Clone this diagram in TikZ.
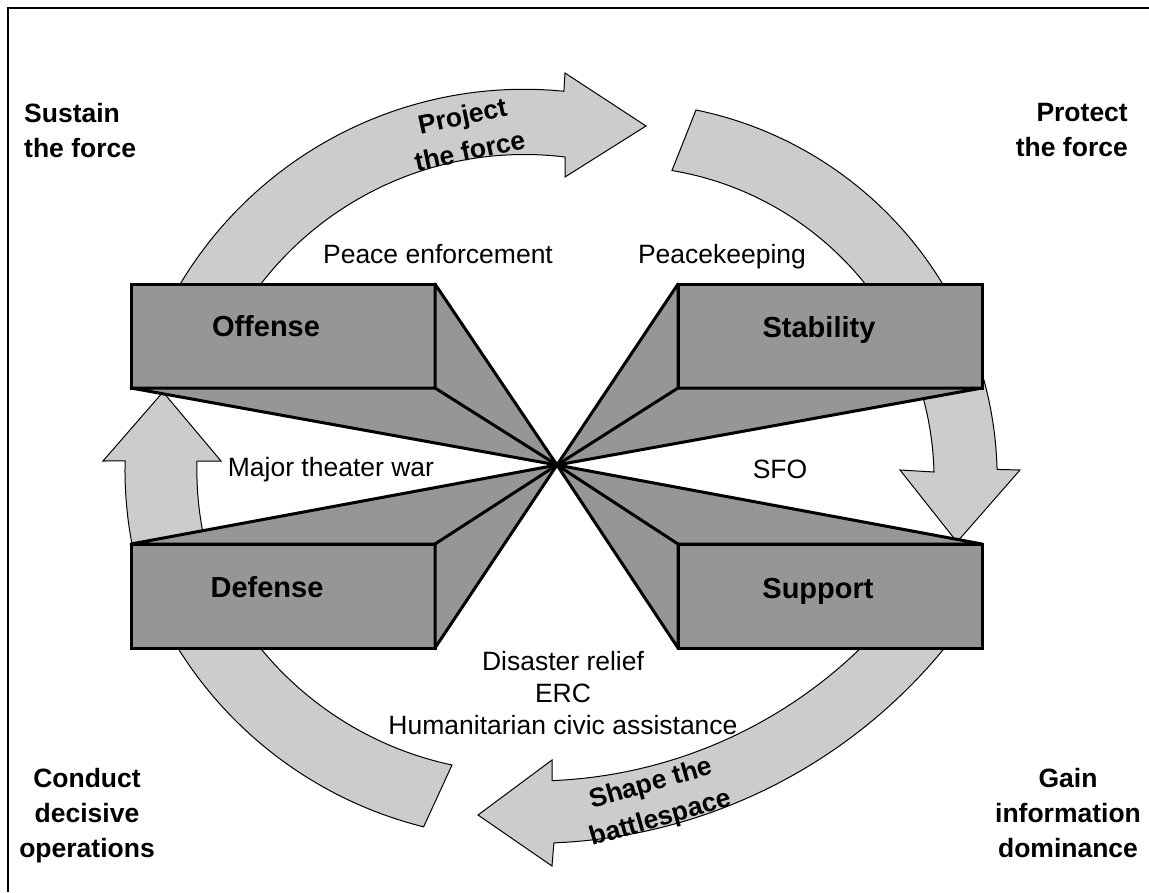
\documentclass[tikz,border=0pt]{standalone}
\usepackage{fontspec}
\setmainfont{Liberation Sans}
\definecolor{boxgray}{RGB}{150,150,150}
\definecolor{bandgray}{RGB}{204,204,204}

\begin{document}
\begin{tikzpicture}[x=1pt,y=1pt,yscale=-1,
  opbox/.style={draw,line width=3pt,fill=boxgray,minimum width=304pt,minimum height=104pt,inner sep=0pt,outer sep=0pt},
  face/.style={draw,line width=3pt,fill=boxgray,line join=round},
  band/.style={draw,line width=1pt,fill=bandgray},
  boxtext/.style={font=\fontsize{29}{34}\selectfont\bfseries,anchor=base},
  plain/.style={font=\fontsize{26.5}{32}\selectfont,inner sep=0pt},
  corner/.style={font=\fontsize{26.5}{35}\selectfont\bfseries,inner sep=0pt},
  bandtext/.style={font=\fontsize{26.5}{36}\selectfont\bfseries,align=center,inner sep=0pt}]
\useasboundingbox (0,0) rectangle (1149,892);
\draw[line width=2pt] (7.5,892) -- (7.5,7.5) -- (1149,7.5);

% curved arrows, behind the boxes
\draw[band] (170,302) arc[start angle=-152, end angle=-84.3, radius=401pt] -- (565,73) -- (646,126) -- (565,177) -- (565,157) arc[start angle=-83, end angle=-152, radius=333pt] -- cycle;
\draw[band] (696,110) arc[start angle=-78.4, end angle=-1.5, radius=377pt] -- (1020,470) -- (957,542) -- (900,470) -- (934,472) arc[start angle=-1.5, end angle=-80.5, radius=314pt] -- cycle;
\draw[band] (133.6,552) arc[start angle=168, end angle=181.3, radius=395pt] -- (103,461) -- (163,392) -- (221,461) -- (197,461) arc[start angle=181.6, end angle=168, radius=323pt] -- cycle;
\draw[band] (164,624) arc[start angle=152, end angle=104, radius=405pt] -- (452,765) arc[start angle=102, end angle=152, radius=338pt] -- cycle;
\draw[band] (963,624) arc[start angle=36, end angle=87.7, radius=532pt] -- (552,866) -- (478,815) -- (552,760) -- (552,780.6) arc[start angle=87.7, end angle=36, radius=470pt] -- cycle;

% the four boxes and their faces
\coordinate (hub) at (557,465);
\node[opbox] (off) at (283,336) {};
\node[opbox] (def) at (283,596) {};
\node[opbox] (stab) at (830,336) {};
\node[opbox] (supp) at (830,596) {};
\draw[face] (off.south west) -- (off.south east) -- (off.north east) -- (hub) -- cycle;
\draw[face] (off.south east) -- (hub);
\draw[face] (stab.south east) -- (stab.south west) -- (stab.north west) -- (hub) -- cycle;
\draw[face] (stab.south west) -- (hub);
\draw[face] (def.north west) -- (def.north east) -- (def.south east) -- (hub) -- cycle;
\draw[face] (def.north east) -- (hub);
\draw[face] (supp.north east) -- (supp.north west) -- (supp.south west) -- (hub) -- cycle;
\draw[face] (supp.north west) -- (hub);

\node[boxtext] (offT) at (266,336) {Offense};
\node[boxtext] (stabT) at (819,337) {Stability};
\node[boxtext] (defT) at (267,597) {Defense};
\node[boxtext] (suppT) at (818,598) {Support};

% labels
\node[plain,anchor=base] (PE) at (438,263) {Peace enforcement};
\node[plain,anchor=base] (PK) at (722,263) {Peacekeeping};
\node[plain,anchor=base] (MTW) at (331,476) {Major theater war};
\node[plain,anchor=base] (SFO) at (780,478) {SFO};
\node[plain,anchor=north,align=center] (DR) at (563,651) {Disaster relief\\ERC\\Humanitarian civic assistance};

\node[bandtext,rotate=12] (PF) at (466,133) {Project\\the force};
\node[bandtext,rotate=16] (SB) at (656,802) {Shape the\\battlespace};

\node[corner,anchor=north west,align=left] (ST) at (24,103) {Sustain\\the force};
\node[corner,anchor=north east,align=right] (PT) at (1128,103) {Protect\\the force};
\node[corner,anchor=north,align=center] (CD) at (87,768) {Conduct\\decisive\\operations};
\node[corner,anchor=north,align=center] (GI) at (1068,768) {Gain\\information\\dominance};
\end{tikzpicture}
\end{document}
